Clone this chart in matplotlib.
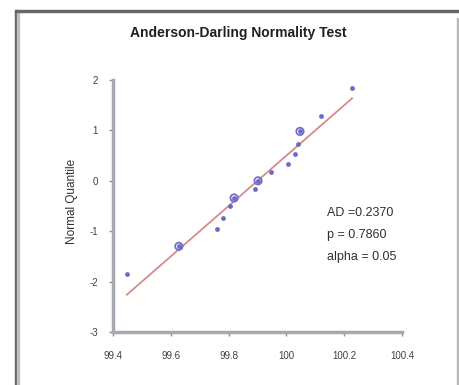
import matplotlib.pyplot as plt
from matplotlib.patches import Rectangle

plt.rcParams['font.family'] = ['Liberation Sans', 'DejaVu Sans']
plt.rcParams['axes.unicode_minus'] = False

# data
x_vals = [99.448, 99.628, 99.760, 99.781, 99.805, 99.819, 99.891, 99.902,
          99.947, 100.006, 100.030, 100.040, 100.047, 100.120, 100.227]
q_vals = [-1.84, -1.30, -0.96, -0.74, -0.50, -0.34, -0.16, 0.00,
          0.18, 0.34, 0.54, 0.74, 0.98, 1.28, 1.84]
circled = [False, True, False, False, False, True, False, True,
           False, False, False, False, True, False, False]

fit_mean = 99.90
fit_sd = 0.20

x_ticks = [99.4, 99.6, 99.8, 100.0, 100.2, 100.4]
x_labels = ['99.4', '99.6', '99.8', '100', '100.2', '100.4']
y_ticks = [-3, -2, -1, 0, 1, 2]

stats = ['AD =0.2370', 'p = 0.7860', 'alpha = 0.05']

W, H = 459, 385
fig = plt.figure(figsize=(W / 100, H / 100), dpi=100)

# window frame
fig.patches.append(Rectangle((15 / W, 0), 2 / W, 1 - 10 / H, transform=fig.transFigure,
                             color='#666666', zorder=0))
fig.patches.append(Rectangle((17 / W, 0), 2 / W, 1 - 12 / H, transform=fig.transFigure,
                             color='#c0c0c0', zorder=0))
fig.patches.append(Rectangle((15 / W, 1 - 12 / H), (W - 15) / W, 2 / H, transform=fig.transFigure,
                             color='#666666', zorder=0))
fig.patches.append(Rectangle((457 / W, 0), 1 / W, 1 - 18 / H, transform=fig.transFigure,
                             color='#b8b8b8', zorder=0))

ax = fig.add_axes([113 / W, 1 - 332 / H, 289 / W, 252 / H])

ax.scatter(x_vals, q_vals, s=12, color='#6a6ac8', zorder=3, linewidths=0)
cx = [x for x, c in zip(x_vals, circled) if c]
cy = [y for y, c in zip(q_vals, circled) if c]
ax.scatter(cx, cy, s=28, facecolors='none', edgecolors='#7070c8', linewidths=1.3, zorder=3)

lx = [min(x_vals), max(x_vals)]
ly = [(v - fit_mean) / fit_sd for v in lx]
ax.plot(lx, ly, color='#d88a8a', lw=1.3, zorder=2)

ax.set_xlim(99.4, 100.4)
ax.set_ylim(-3, 2)
ax.set_xticks(x_ticks)
ax.set_xticklabels(x_labels)
ax.set_yticks(y_ticks)

for side in ['top', 'right']:
    ax.spines[side].set_visible(False)
for side in ['left', 'bottom']:
    ax.spines[side].set_color('#a8a8b0')
    ax.spines[side].set_linewidth(2.5)

ax.tick_params(axis='x', direction='out', length=3, width=1, color='#909090',
               labelsize=7, labelcolor='#404040', pad=11)
ax.tick_params(axis='y', direction='out', length=3, width=1, color='#909090',
               labelsize=7, labelcolor='#404040', pad=8)

for i, s in enumerate(stats):
    fig.text(327 / W, 1 - (213 + 22 * i) / H, s, fontsize=9, color='#303030',
             ha='left', va='center')

fig.text(238 / W, 1 - 33 / H, 'Anderson-Darling Normality Test', fontsize=10,
         fontweight='bold', color='#202020', ha='center', va='center')
fig.text(72 / W, 1 - 201 / H, 'Normal Quantile', fontsize=8.5, color='#303030',
         rotation=90, ha='center', va='center')

fig.savefig('out.png', dpi=100)
